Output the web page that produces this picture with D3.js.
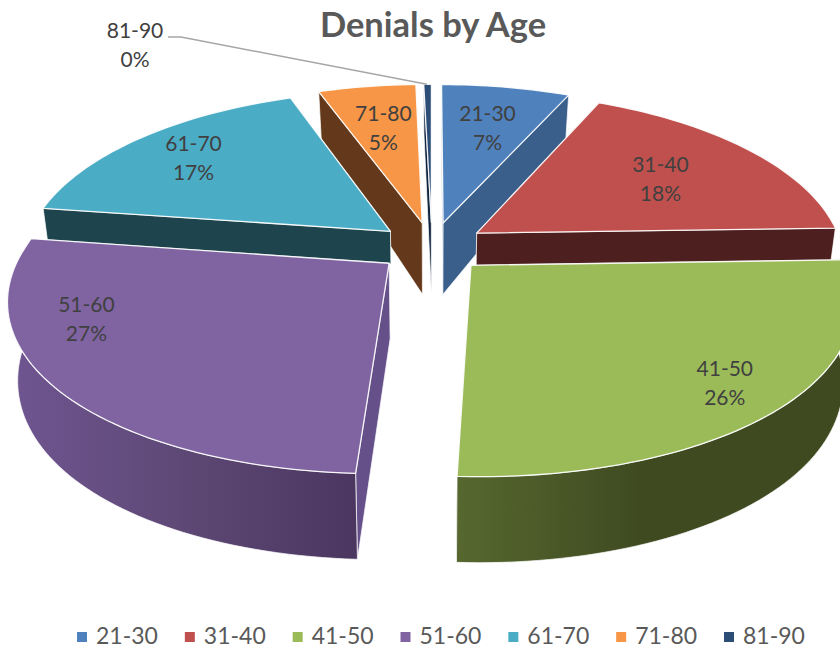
<!DOCTYPE html>
<html>
<head>
<meta charset="utf-8">
<script src="https://cdn.jsdelivr.net/npm/d3@7"></script>
<style>
html,body{margin:0;padding:0;background:#fff;overflow:hidden}
svg{display:block;font-family:Lato,"Open Sans",sans-serif}
</style>
</head>
<body>
<svg id="chart" width="840" height="649"></svg>
<script>
const categories = ["21-30","31-40","41-50","51-60","61-70","71-80","81-90"];
const shares = [6.7,17.8,26.3,26.5,17.2,5.1,0.4];
const topColors = ["#4f81bd","#c0504d","#9bbb59","#8064a2","#4bacc6","#f79646","#2c4d75"];
const sideColors = ["#3a5f8b","#4d1f1e","#56682f","#65508a","#1e444d","#64391b","#10253f"];
const drawOrder = [6,5,0,4,1,3,2];
const labelRadius = [0.675,0.65,0.84,0.815,0.775,0.67];
const labelAngleShift = [0,1,0,18,0,0];

const W = 840, H = 649;
const cx = 432, cy = 247, A = 169, B = 366, k = 0.168, kFront = 0.19, explode = 0.149;
const svg = d3.select("#chart");
const rad = d => d * Math.PI / 180;

function project(X, Y, Z) {
  const den = 1 + k * Y;
  const denX = 1 + (Y < 0 ? kFront : k) * Y;
  const sx = B * X / denX, sy = A * Y / den;
  if (!Z) return [cx + sx, cy - sy];
  const depth = 74 - 16.4 * Y - 5 * Y * Y;
  return [cx + sx * 0.976, cy - sy + depth];
}

const pie = d3.pie().sort(null).startAngle(0).endAngle(2 * Math.PI);
const arcs = pie(shares);
const line = d3.line();

const defs = svg.append("defs");
function wallGradient(id, x1, x2, stops) {
  const g = defs.append("linearGradient").attr("id", id)
    .attr("gradientUnits", "userSpaceOnUse")
    .attr("x1", x1).attr("x2", x2).attr("y1", 0).attr("y2", 0);
  stops.forEach(s => g.append("stop").attr("offset", s[0]).attr("stop-color", s[1]));
}
wallGradient("purpleWall", 15, 358, [[0,"#6f5590"],[0.5,"#5d4875"],[1,"#4b3660"]]);
wallGradient("greenWall", 457, 640, [[0,"#56682f"],[1,"#3f4a21"]]);
const outerFill = {2:"url(#greenWall)", 3:"url(#purpleWall)"};

const pieLayer = svg.append("g");

function slicePoints(a) {
  const mid = (a.startAngle + a.endAngle) / 2;
  const ox = explode * Math.sin(mid), oy = explode * Math.cos(mid);
  const n = Math.max(4, Math.ceil((a.endAngle - a.startAngle) / rad(1.5)));
  const angles = d3.range(n + 1).map(i => a.startAngle + (a.endAngle - a.startAngle) * i / n);
  const rim = angles.map(t => [ox + Math.sin(t), oy + Math.cos(t)]);
  return {tip: [ox, oy], rim, angles, ox, oy, mid};
}

// this slice's wall stops where the slice in front of it begins
const frontTip = (() => { const s = slicePoints(arcs[3]); return project(s.tip[0], s.tip[1], 0); })();
defs.append("clipPath").attr("id", "behindFront").append("rect")
  .attr("x", 0).attr("y", 0).attr("width", W).attr("height", frontTip[1]);

drawOrder.forEach(i => {
  const s = slicePoints(arcs[i]);
  const g = pieLayer.append("g");
  if (i === 4) g.attr("clip-path", "url(#behindFront)");
  const rimTop = s.rim.map(p => project(p[0], p[1], 0));
  const rimBot = s.rim.map(p => project(p[0], p[1], 1));
  const tipTop = project(s.tip[0], s.tip[1], 0);
  const tipBot = project(s.tip[0], s.tip[1], 1);
  const last = rimTop.length - 1;
  const addWall = (pts, fill) => g.append("path").attr("d", line(pts) + "Z").attr("fill", fill)
    .attr("stroke", "#fff").attr("stroke-width", 0.9).attr("stroke-opacity", 0.8)
    .attr("stroke-linejoin", "round");
  // side walls, the one further back first
  const sideIdx = s.rim[0][1] > s.rim[last][1] ? [0, last] : [last, 0];
  sideIdx.forEach(j => addWall([tipTop, rimTop[j], rimBot[j], tipBot], sideColors[i]));
  // only the part of the outer wall that faces the viewer
  const facing = d3.range(rimTop.length).filter(j => Math.cos(s.angles[j]) < 0);
  if (facing.length > 1) {
    const ft = facing.map(j => rimTop[j]), fb = facing.map(j => rimBot[j]).reverse();
    addWall(ft.concat(fb), outerFill[i] || sideColors[i]);
  }
  g.append("path")
    .attr("d", line([tipTop].concat(rimTop)) + "Z")
    .attr("fill", topColors[i])
    .attr("stroke", "#fff").attr("stroke-width", 1.3).attr("stroke-opacity", 0.9)
    .attr("stroke-linejoin", "round");
});

// data labels
const labelColor = "#404040", labelSize = 21, labelLead = 29;
function dataLabel(x, y, name, pct) {
  const t = svg.append("text").attr("text-anchor", "middle")
    .attr("font-size", labelSize).attr("fill", labelColor);
  t.append("tspan").attr("x", x).attr("y", y - 6).text(name);
  t.append("tspan").attr("x", x).attr("y", y + labelLead - 6).text(pct);
}
labelRadius.forEach((r, i) => {
  const s = slicePoints(arcs[i]);
  const ang = s.mid + rad(labelAngleShift[i]);
  const p = project(s.ox + r * Math.sin(ang), s.oy + r * Math.cos(ang), 0);
  dataLabel(p[0], p[1], categories[i], Math.round(shares[i]) + "%");
});

// outside label with leader line for the smallest slice
const sl = slicePoints(arcs[6]);
const anchor = project(sl.ox - 0.015, sl.oy + 1, 0);
svg.append("path")
  .attr("d", line([[168,37],[181,37],anchor]))
  .attr("fill", "none").attr("stroke", "#a6a6a6").attr("stroke-width", 1.5);
dataLabel(135, 44, categories[6], Math.round(shares[6]) + "%");

// title
svg.append("text").attr("x", 433).attr("y", 37).attr("text-anchor", "middle")
  .attr("font-size", 34.5).attr("font-weight", 700).attr("fill", "#595959")
  .text("Denials by Age");

// legend
const legendX = d3.scalePoint().domain(categories).range([77, 724]);
const legend = svg.append("g");
categories.forEach((c, i) => {
  const x = legendX(c);
  legend.append("rect").attr("x", x).attr("y", 632).attr("width", 10).attr("height", 10).attr("fill", topColors[i]);
  legend.append("text").attr("x", x + 19).attr("y", 644).attr("font-size", 23).attr("fill", "#595959").text(c);
});
</script>
</body>
</html>
